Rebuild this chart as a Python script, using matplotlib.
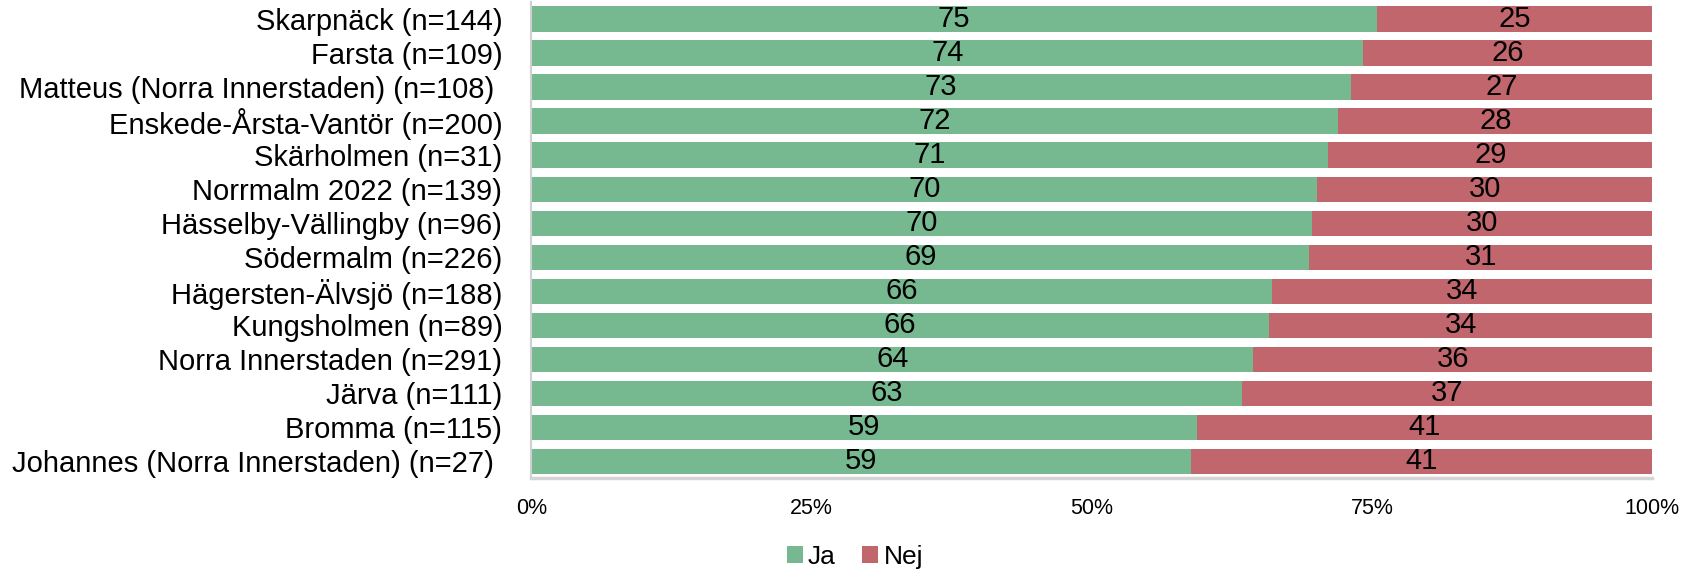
import numpy as np
import matplotlib
matplotlib.use("Agg")
import matplotlib.pyplot as plt

plt.rcParams['font.family'] = ['Liberation Sans', 'DejaVu Sans']

# survey areas, top to bottom (two labels carry a trailing space in the source)
areas = [
    "Skarpnäck (n=144)",
    "Farsta (n=109)",
    "Matteus (Norra Innerstaden) (n=108) ",
    "Enskede-Årsta-Vantör (n=200)",
    "Skärholmen (n=31)",
    "Norrmalm 2022 (n=139)",
    "Hässelby-Vällingby (n=96)",
    "Södermalm (n=226)",
    "Hägersten-Älvsjö (n=188)",
    "Kungsholmen (n=89)",
    "Norra Innerstaden (n=291)",
    "Järva (n=111)",
    "Bromma (n=115)",
    "Johannes (Norra Innerstaden) (n=27) ",
]
ja = [75.4, 74.2, 73.1, 72.0, 71.1, 70.1, 69.6, 69.4, 66.1, 65.8, 64.4, 63.4, 59.4, 58.8]
nej = [100 - v for v in ja]
x_ticks = [0, 25, 50, 75, 100]
x_ticklabels = ["0%", "25%", "50%", "75%", "100%"]

green = "#76B991"
red = "#C2666D"

fig = plt.figure(figsize=(16.98, 5.72), dpi=100)
ax = fig.add_axes([0.313, 0.1636, 0.6601, 0.8324])

y = np.arange(len(areas))
b1 = ax.barh(y, ja, height=0.755, color=green, label="Ja")
b2 = ax.barh(y, nej, left=ja, height=0.755, color=red, label="Nej")

for i in range(len(areas)):
    ax.text(ja[i] / 2, y[i], f"{ja[i]:.0f}", ha="center", va="center",
            fontsize=21, color="black")
    ax.text(ja[i] + nej[i] / 2, y[i], f"{nej[i]:.0f}", ha="center",
            va="center", fontsize=21, color="black")

ax.set_xlim(0, 100)
ax.set_ylim(len(areas) - 0.5, -0.5)
ax.set_yticks(y)
ax.set_yticklabels(areas, fontsize=21)
ax.set_xticks(x_ticks)
ax.set_xticklabels(x_ticklabels, fontsize=15.5)
ax.tick_params(axis="y", length=0, pad=21)
ax.tick_params(axis="x", length=0, pad=14)

for side in ["top", "right"]:
    ax.spines[side].set_visible(False)
ax.spines["left"].set_color("#d0d0d0")
ax.spines["left"].set_linewidth(1.5)
ax.spines["bottom"].set_color("#d4d4d4")
ax.spines["bottom"].set_linewidth(2.5)

fig.legend(handles=[b1, b2], labels=["Ja", "Nej"], loc="center",
           bbox_to_anchor=(0.5035, 0.026), ncol=2, frameon=False,
           fontsize=19, handlelength=0.6, handleheight=0.6,
           handletextpad=0.2, columnspacing=1.0)

fig.savefig("out.png", dpi=100)
